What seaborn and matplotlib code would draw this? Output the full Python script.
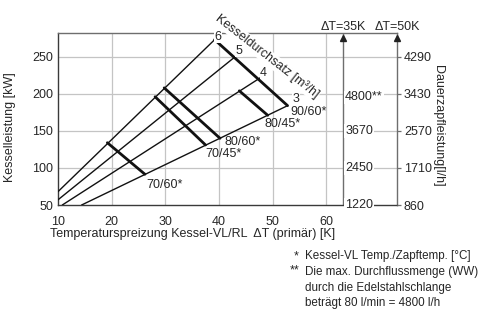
import matplotlib
matplotlib.use("Agg")
import matplotlib.pyplot as plt
import matplotlib.transforms as mtransforms
import seaborn as sns
import pandas as pd

# ---------------- data ----------------
flow_rates = ["3", "4", "5", "6"]                 # Kesseldurchsatz [m3/h]
flow_dT_start = [14.4, 10.8, 10.0, 10.0]
flow_kW_start = [50.0, 50.0, 57.0, 68.0]
flow_dT_end = [52.8, 47.8, 43.2, 39.2]
flow_kW_end = [184.0, 222.0, 251.0, 273.0]

temp_labels = ["90/60*", "80/45*", "80/60*", "70/45*", "70/60*"]
temp_dT_start = [39.2, 43.8, 29.8, 28.1, 19.2]
temp_kW_start = [273.0, 204.0, 208.0, 196.0, 134.0]
temp_dT_end = [52.8, 49.1, 40.2, 37.5, 26.2]
temp_kW_end = [184.0, 171.0, 140.0, 131.0, 91.5]

x_ticks = [10, 20, 30, 40, 50, 60]
y_ticks = [50, 100, 150, 200, 250]
dt35_kW = [50, 100, 150, 195]
dt35_labels = ["1220", "2450", "3670", "4800**"]
dt50_kW = [50, 100, 150, 200, 250]
dt50_labels = ["860", "1710", "2570", "3430", "4290"]

# ---------------- style ----------------
sns.set_style("white")
plt.rcParams["font.family"] = ["Liberation Sans", "DejaVu Sans"]
plt.rcParams["font.size"] = 9

fig = plt.figure(figsize=(4.82, 3.09), dpi=100)
ax = fig.add_axes([58 / 482, 104 / 309, 339 / 482, 172 / 309])
ax.set_xlim(10, 73.2)
ax.set_ylim(50, 282)

grid_c = "#c4c4c4"
axis_c = "#6e6e6e"
for x in x_ticks[1:]:
    ax.axvline(x, color=grid_c, lw=0.9, zorder=0)
for y in y_ticks[1:]:
    ax.axhline(y, color=grid_c, lw=0.9, zorder=0)

# flow lines (thin)
for i, f in enumerate(flow_rates):
    df = pd.DataFrame({"dT": [flow_dT_start[i], flow_dT_end[i]],
                       "kW": [flow_kW_start[i], flow_kW_end[i]]})
    sns.lineplot(data=df, x="dT", y="kW", color="#111111", lw=1.0, ax=ax,
                 sort=False, zorder=3)

# temperature lines (thick)
for i, t in enumerate(temp_labels):
    df = pd.DataFrame({"dT": [temp_dT_start[i], temp_dT_end[i]],
                       "kW": [temp_kW_start[i], temp_kW_end[i]]})
    sns.lineplot(data=df, x="dT", y="kW", color="#111111", lw=2.0, ax=ax,
                 sort=False, zorder=4)

# labels of the flow lines
num_off = [(6, 5), (2, 3.5), (2, 3.5), (2.5, 2)]
for i, f in enumerate(flow_rates):
    ax.annotate(f, (flow_dT_end[i], flow_kW_end[i]), xytext=num_off[i],
                textcoords="offset points", ha="center", va="center",
                fontsize=9, zorder=6,
                bbox=dict(facecolor="white", edgecolor="none", pad=0.3))

# labels of temperature lines
temp_off = [(2, -4.5), (-2, -6), (3, -2.5), (0, -6.5), (1, -8)]
for i, t in enumerate(temp_labels):
    ax.annotate(t, (temp_dT_end[i], temp_kW_end[i]), xytext=temp_off[i],
                textcoords="offset points", ha="left", va="center",
                fontsize=9, zorder=6)

ax.text(49.0, 250, "Kesseldurchsatz [m³/h]", rotation=-38, rotation_mode="anchor",
        ha="center", va="center", fontsize=9, zorder=5,
        bbox=dict(facecolor="white", edgecolor="none", pad=0.5))

# spines
for s in ["left", "bottom"]:
    ax.spines[s].set_color("#3a3a3a")
    ax.spines[s].set_linewidth(1.0)
for s in ["top", "right"]:
    ax.spines[s].set_color(axis_c)
    ax.spines[s].set_linewidth(1.0)

ax.set_xticks(x_ticks)
ax.set_yticks(y_ticks)
ax.tick_params(axis="x", length=0, pad=8, labelsize=9)
ax.tick_params(axis="y", length=0, pad=3.5, labelsize=9)
ax.set_xlabel("Temperaturspreizung Kessel-VL/RL  ΔT (primär) [K]", fontsize=9)
ax.xaxis.set_label_coords(0.397, -0.135)
ax.set_ylabel("Kesselleistung [kW]", fontsize=9)
ax.yaxis.set_label_coords(-0.125, 0.45)

# ΔT = 35K axis
x35 = 0.841
ax.axvline(x=ax.get_xlim()[0] + x35 * (ax.get_xlim()[1] - ax.get_xlim()[0]),
           color=axis_c, lw=1.0, zorder=2)
trans = mtransforms.blended_transform_factory(ax.transAxes, ax.transData)
for v, lab in zip(dt35_kW, dt35_labels):
    ax.text(x35 + 0.006, v, lab, transform=trans, ha="left", va="center",
            fontsize=9, zorder=6, clip_on=False,
            bbox=dict(facecolor="white", edgecolor="none", pad=0.6))
ax.plot([x35, 1.0], [0.972, 0.972], transform=ax.transAxes, ls="none",
        marker="^", ms=4, color="#222222", clip_on=False, zorder=7)
ax.text(x35, 1.035, "ΔT=35K", transform=ax.transAxes, ha="center", va="center",
        fontsize=9)
ax.text(1.0, 1.035, "ΔT=50K", transform=ax.transAxes, ha="center", va="center",
        fontsize=9)

# ΔT = 50K axis (right)
ax2 = ax.twinx()
ax2.set_ylim(ax.get_ylim())
ax2.set_yticks(dt50_kW)
ax2.set_yticklabels(dt50_labels)
ax2.tick_params(axis="y", length=3, width=0.9, color=axis_c, pad=2, labelsize=9)
for s in ax2.spines.values():
    s.set_visible(False)
ax2.set_ylabel("Dauerzapfleistung[l/h]", rotation=270, fontsize=9)
ax2.yaxis.set_label_coords(1.14, 0.46)

# footnotes
fig.text(296 / 482, 1 - 256 / 309, "*", ha="center", va="center", fontsize=9)
fig.text(295 / 482, 1 - 270 / 309, "**", ha="center", va="center", fontsize=9)
foot = ["Kessel-VL Temp./Zapftemp. [°C]",
        "Die max. Durchflussmenge (WW)",
        "durch die Edelstahlschlange",
        "beträgt 80 l/min = 4800 l/h"]
for k, (line, yp) in enumerate(zip(foot, [256, 272, 288, 303])):
    fig.text(305 / 482, 1 - yp / 309, line, ha="left", va="center", fontsize=8.4)

fig.savefig("out.png", dpi=100)
